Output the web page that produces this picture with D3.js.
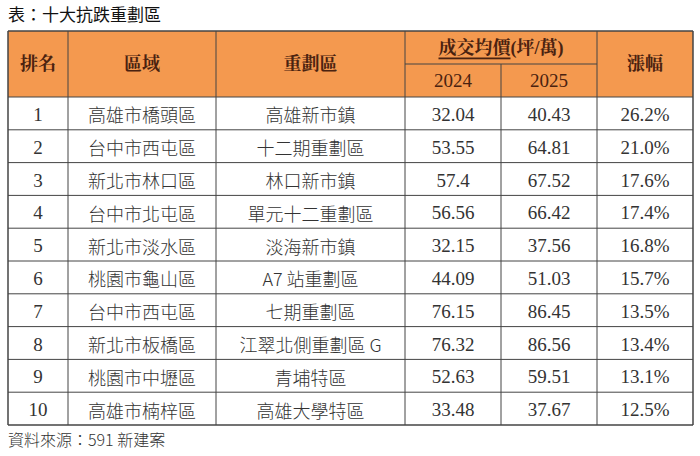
<!DOCTYPE html>
<html><head><meta charset="utf-8">
<script src="https://cdn.jsdelivr.net/npm/d3@7"></script>
<style>body{margin:0;background:#fff}</style>
</head><body>
<svg id="chart" width="700" height="456"></svg>
<script>
// 十大抗跌重劃區
var ranks = [1,2,3,4,5,6,7,8,9,10];
var areas = ["高雄市橋頭區","台中市西屯區","新北市林口區","台中市北屯區","新北市淡水區","桃園市龜山區","台中市西屯區","新北市板橋區","桃園市中壢區","高雄市楠梓區"];
var zones = ["高雄新市鎮","十二期重劃區","林口新市鎮","單元十二重劃區","淡海新市鎮","A7 站重劃區","七期重劃區","江翠北側重劃區 G","青埔特區","高雄大學特區"];
var price2024 = ["32.04","53.55","57.4","56.56","32.15","44.09","76.15","76.32","52.63","33.48"];
var price2025 = ["40.43","64.81","67.52","66.42","37.56","51.03","86.45","86.56","59.51","37.67"];
var growth = ["26.2%","21.0%","17.6%","17.4%","16.8%","15.7%","13.5%","13.4%","13.1%","12.5%"];

var svg = d3.select('#chart');
var font = "'Liberation Serif','Noto Serif CJK TC','Noto Sans CJK TC',serif";
var cjk = "'Noto Sans CJK TC',sans-serif";

// 欄位邊界
var colEdges = [8, 68, 216, 405, 501, 597, 693];
var tableTop = 31, mid = 64, headBottom = 97, bottom = 425;
var y = d3.scaleBand().domain(d3.range(10)).range([headBottom, bottom]);

svg.append('text').attr('x', 8).attr('y', 21).attr('font-family', cjk)
  .attr('font-size', 17).attr('fill', '#111').text('表：十大抗跌重劃區');

// header background
svg.append('rect').attr('x', colEdges[0]).attr('y', tableTop)
  .attr('width', colEdges[6] - colEdges[0]).attr('height', headBottom - tableTop)
  .attr('fill', '#f4994f');

var hc = '#4a2210';
function head(x, yy, t) {
  return svg.append('text').attr('x', x).attr('y', yy).attr('text-anchor', 'middle')
    .attr('font-family', font).attr('font-size', 18).attr('font-weight', 'bold')
    .attr('fill', hc).attr('dominant-baseline', 'central').text(t);
}
var cx = function(i){ return (colEdges[i] + colEdges[i+1]) / 2; };
head(cx(0), (tableTop+headBottom)/2, '排名');
head(cx(1), (tableTop+headBottom)/2, '區域');
head(cx(2), (tableTop+headBottom)/2, '重劃區');
head(cx(5), (tableTop+headBottom)/2, '漲幅');
var t = svg.append('text').attr('x', (colEdges[3]+colEdges[5])/2).attr('y', (tableTop+mid)/2)
  .attr('text-anchor', 'middle').attr('font-family', font).attr('font-size', 18)
  .attr('font-weight', 'bold').attr('fill', hc).attr('dominant-baseline', 'central');
t.append('tspan').attr('text-decoration', 'underline').text('成交均價');
t.append('tspan').text('(坪/萬)');
head(cx(3), (mid+headBottom)/2, '2024').attr('font-weight', 'normal').attr('font-size', 19);
head(cx(4), (mid+headBottom)/2, '2025').attr('font-weight', 'normal').attr('font-size', 19);

// 資料列
var cols = [ranks, areas, zones, price2024, price2025, growth];
cols.forEach(function(arr, c) {
  var isCjk = c === 1 || c === 2;
  svg.append('g').selectAll('text').data(arr).join('text')
    .attr('x', cx(c)).attr('y', function(d, i){ return y(i) + y.bandwidth()/2 + 1; })
    .attr('text-anchor', 'middle').attr('dominant-baseline', 'central')
    .attr('font-family', isCjk ? cjk : font)
    .attr('font-size', isCjk ? 18 : 19)
    .attr('font-weight', isCjk ? 300 : 'normal')
    .attr('fill', '#333').text(function(d){ return d; });
});

// grid lines
var line = '#444';
colEdges.forEach(function(x, i) {
  var y0 = (i === 4) ? mid : tableTop;
  svg.append('line').attr('x1', x).attr('x2', x).attr('y1', y0).attr('y2', bottom)
    .attr('stroke', line).attr('stroke-width', i === 0 || i === 6 ? 1.5 : 1);
});
svg.append('line').attr('x1', colEdges[0]).attr('x2', colEdges[6]).attr('y1', tableTop).attr('y2', tableTop)
  .attr('stroke', line).attr('stroke-width', 1.5);
svg.append('line').attr('x1', colEdges[3]).attr('x2', colEdges[5]).attr('y1', mid).attr('y2', mid)
  .attr('stroke', line);
svg.append('g').selectAll('line').data(d3.range(11)).join('line')
  .attr('x1', colEdges[0]).attr('x2', colEdges[6])
  .attr('y1', function(i){ return i < 10 ? y(i) : bottom; })
  .attr('y2', function(i){ return i < 10 ? y(i) : bottom; })
  .attr('stroke', line).attr('stroke-width', function(i){ return i === 10 ? 1.5 : 1; });

svg.append('text').attr('x', 8).attr('y', 446).attr('font-family', cjk)
  .attr('font-size', 16).attr('font-weight', 300).attr('fill', '#333').text('資料來源：591 新建案');
</script>
</body></html>
